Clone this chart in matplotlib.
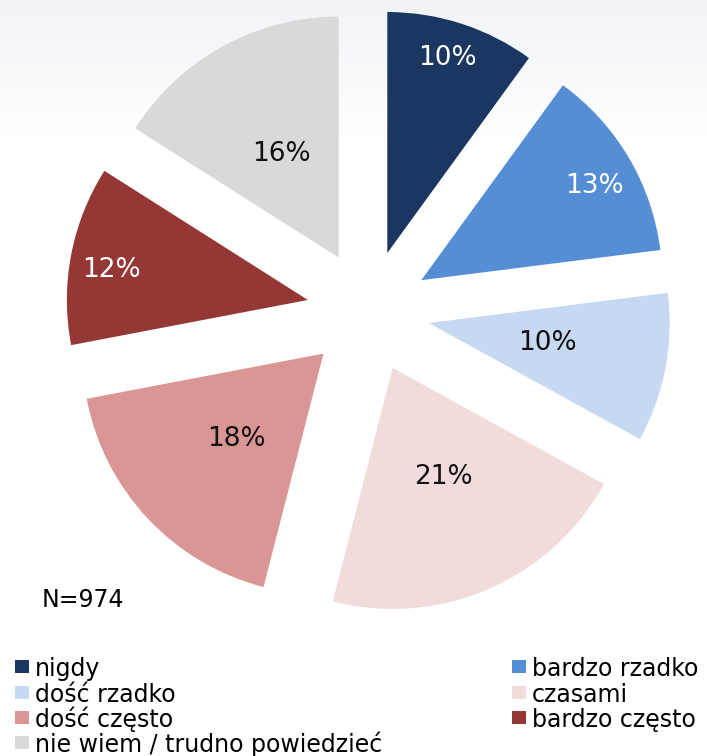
import numpy as np
import matplotlib
matplotlib.use("Agg")
import matplotlib.pyplot as plt
from matplotlib.patches import Rectangle
from matplotlib.colors import LinearSegmentedColormap

categories = ["nigdy", "bardzo rzadko", "dość rzadko", "czasami",
              "dość często", "bardzo często", "nie wiem / trudno powiedzieć"]
values = [10, 13, 10, 21, 18, 12, 16]
n_label = "N=974"

colors = ["#1B3761", "#558ED5", "#C6D9F1", "#F2DCDB", "#D99694", "#953735", "#D9D9D9"]
label_colors = ["white", "white", "#111111", "#111111", "#111111", "white", "#111111"]
label_dist = [0.846, 0.817, 0.50, 0.50, 0.505, 0.825, 0.49]
label_shift_deg = [0.9, -2.1, 1.3, 1.3, 1.1, 2.1, 0.0]

W, H = 707, 756
fig = plt.figure(figsize=(W / 100, H / 100), dpi=100)
fig.patch.set_facecolor("white")

# faint background gradient at the top
bg = fig.add_axes([0, 0, 1, 1], zorder=0)
grad = np.linspace(0, 1, 256)[:, None] * np.ones((1, 2))
cmap = LinearSegmentedColormap.from_list("g", ["#F1F3F7", "#FFFFFF"])
bg.imshow(grad, aspect="auto", cmap=cmap, extent=[0, 1, 1 - 140 / H, 1], vmin=0, vmax=1)
bg.set_xlim(0, 1)
bg.set_ylim(0, 1)
bg.axis("off")

R = 241.0
cx, cy = 368.3, 311.5
ax = fig.add_axes([0, 0, 1, 1], zorder=1)
ax.patch.set_alpha(0)
explode = [61.5 / R] * len(values)
wedges, _ = ax.pie(values, colors=colors, startangle=90, counterclock=False,
                   explode=explode, radius=1.0,
                   wedgeprops=dict(linewidth=0))
ax.set_xlim(-cx / R, (W - cx) / R)
ax.set_ylim((cy - H) / R, cy / R)
ax.set_aspect("auto")
ax.axis("off")

total = sum(values)
cum = 0
for i, v in enumerate(values):
    mid = (cum + v / 2) / total
    cum += v
    ang = np.deg2rad(90 - 360 * mid)
    ax0, ay0 = explode[i] * np.cos(ang), explode[i] * np.sin(ang)
    a2 = ang + np.deg2rad(label_shift_deg[i])
    x = ax0 + label_dist[i] * np.cos(a2)
    y = ay0 + label_dist[i] * np.sin(a2)
    ax.text(x, y, f"{v}%", ha="center", va="center", fontsize=19,
            color=label_colors[i], family="DejaVu Sans")

fig.text(42 / W, 1 - 600 / H, n_label, ha="left", va="center", fontsize=17,
         family="DejaVu Sans", color="black")

# legend: row-major, two columns
col_x = [15, 512]
row_y = [666, 692, 717, 742]
sq_w, sq_h = 14, 13
for i, (cat, col) in enumerate(zip(categories, colors)):
    r, c = divmod(i, 2)
    x0 = col_x[c]
    y0 = row_y[r]
    fig.patches.append(Rectangle((x0 / W, 1 - (y0 + sq_h / 2) / H), sq_w / W, sq_h / H,
                                 transform=fig.transFigure, facecolor=col,
                                 edgecolor="none"))
    fig.text((x0 + 20) / W, 1 - (y0 + 10) / H, cat, ha="left", va="baseline",
             fontsize=17, family="DejaVu Sans", color="black")

fig.savefig("out.png", dpi=100)
